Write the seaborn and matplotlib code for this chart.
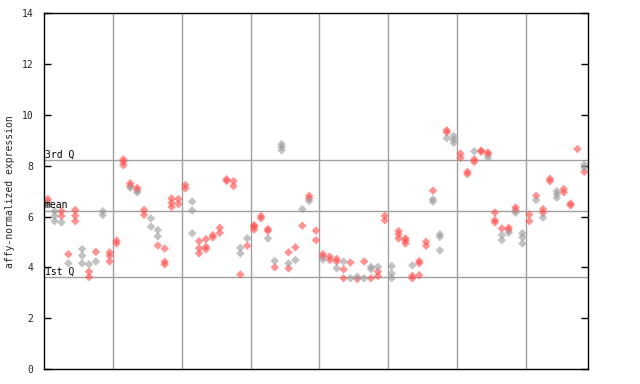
import matplotlib
matplotlib.use("Agg")
import matplotlib.pyplot as plt
import seaborn as sns
import pandas as pd

# expression values per sample column (79 samples), split by series colour
red_series = [
    [6.69, 6.58], [], [6.21, 6.02], [4.52], [6.26, 6.04, 5.82], [], [3.83, 3.62], [4.61], [], [4.59, 4.46, 4.23],
    [5.05, 4.94], [8.25, 8.15, 8.02], [7.31, 7.21], [7.13, 7.04], [6.26, 6.07], [], [4.86], [4.74, 4.22, 4.12], [6.71, 6.54, 6.38], [6.69, 6.49],
    [7.24, 7.11], [], [5.03, 4.75, 4.55], [5.11, 4.81, 4.71], [5.27, 5.18], [5.56, 5.36], [7.47, 7.40], [7.39, 7.20], [3.72], [4.85],
    [5.66, 5.60, 5.49], [6.02, 5.93], [5.51, 5.43], [4.00], [], [4.59, 3.96], [4.79], [5.64], [6.82, 6.71], [5.45, 5.07],
    [4.52, 4.42], [4.42, 4.29], [4.33, 4.23], [3.92, 3.57], [4.19], [3.54], [4.23], [3.57], [3.83, 3.66], [6.03, 5.85],
    [], [5.43, 5.30, 5.14], [5.14, 5.05, 4.94], [3.67, 3.57], [4.25, 4.16, 3.69], [5.01, 4.85], [7.02], [], [9.40, 9.31], [],
    [8.48, 8.31], [7.76, 7.67], [8.25, 8.15], [8.60, 8.55], [8.52, 8.44], [6.16, 5.86, 5.77], [5.53], [5.56, 5.47], [6.36, 6.25], [],
    [6.08, 5.82], [6.82], [6.29, 6.15], [7.49, 7.39], [], [7.08, 6.95], [6.51, 6.44], [8.66], [7.76],
]
gray_series = [
    [6.49], [6.21, 6.02, 5.82], [5.77], [4.16], [], [4.72, 4.46, 4.16], [4.12], [4.23], [6.21, 6.06], [],
    [], [], [7.13], [6.95], [], [5.93, 5.60], [5.47, 5.22], [], [], [],
    [], [6.59, 6.24, 5.34], [], [], [], [], [], [], [4.77, 4.55], [5.14],
    [], [], [5.14], [4.25], [8.85, 8.74, 8.61], [4.16], [4.29], [6.29], [6.61], [],
    [4.31], [], [3.97], [4.23], [3.57], [3.63], [3.57], [4.02, 3.92], [4.02], [],
    [4.05, 3.76, 3.58], [], [], [4.08], [], [], [6.68, 6.59], [5.30, 5.20, 4.67], [9.08], [9.17, 9.03, 8.90],
    [], [], [8.57], [], [8.31], [], [5.27, 5.07], [5.36], [6.15], [5.34, 5.18, 4.94],
    [], [6.65], [5.96], [], [7.00, 6.88, 6.74], [], [], [], [8.05, 7.92],
]
y_ticks = [0, 2, 4, 6, 8, 10, 12, 14]
quantile_labels = ["3rd Q", "mean", "1st Q"]
quantile_values = [8.22, 6.22, 3.62]
group_boundaries = [9.5, 19.5, 29.5, 39.5, 49.5, 59.5, 69.5]

rows = []
for i, vals in enumerate(red_series):
    for v in vals:
        rows.append({"sample": i, "value": v, "series": "red"})
for i, vals in enumerate(gray_series):
    for v in vals:
        rows.append({"sample": i, "value": v, "series": "gray"})
df = pd.DataFrame(rows)

sns.set_style("white")
plt.rcParams["font.family"] = ["DejaVu Sans Mono"]

fig = plt.figure(figsize=(6.4, 3.84), dpi=100)
ax = fig.add_axes([0.0692, 0.0391, 0.8492, 0.9263])

for xb in group_boundaries:
    ax.axvline(xb, color="#a0a0a0", lw=1.0, zorder=1)
for lab, qv in zip(quantile_labels, quantile_values):
    ax.axhline(qv, color="#a0a0a0", lw=1.0, zorder=1)
    ax.text(-0.45, qv + 0.03, lab, fontsize=7, va="bottom", ha="left", color="black", zorder=3)

sns.scatterplot(data=df, x="sample", y="value", hue="series",
                palette={"red": "#ff4c4c", "gray": "#9a9a9a"},
                marker="D", s=19, alpha=0.6, linewidth=0, legend=False, ax=ax, zorder=2)

ax.set_xlim(-0.5, 78.5)
ax.set_ylim(0, 14)
ax.set_xticks([])
ax.set_yticks(y_ticks)
ax.set_yticklabels([str(t) for t in y_ticks], fontsize=7)
ax.tick_params(axis="y", direction="in", length=5, width=1, color="black",
               left=True, right=True, labelleft=True, labelright=False, pad=8)
ax.set_xlabel("")
ax.set_ylabel("affy-normalized expression", fontsize=7)
ax.yaxis.set_label_coords(-0.053, 0.5)
for sp in ax.spines.values():
    sp.set_visible(True)
    sp.set_color("black")
    sp.set_linewidth(1.0)

fig.savefig("out.png", dpi=100)
